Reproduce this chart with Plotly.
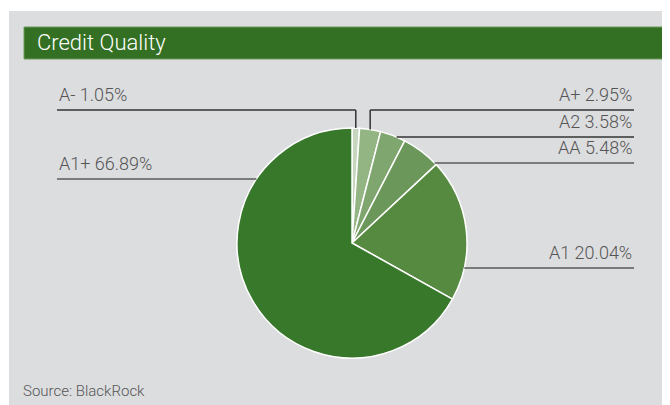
import math
import plotly.graph_objects as go

# ---- data ----
categories = ["A-", "A+", "A2", "AA", "A1", "A1+"]
values = [1.05, 2.95, 3.58, 5.48, 20.04, 66.89]
slice_colors = ["#c7d7bf", "#93b584", "#7fa66f", "#6b985a", "#578a41", "#38782b"]

title_text = "Credit Quality"
source_text = "Source: BlackRock"

# ---- layout constants (pixels, in the 670x405 window) ----
OFF = 8                      # default page body margin
W, H = 670 - OFF, 405 - OFF  # figure size
CX, CY, R = 352, 243, 115
FONT = "Roboto, 'Open Sans', sans-serif"


def px(x):
    return (x - OFF) / W


def py(y):
    return 1 - (y - OFF) / H


fig = go.Figure()
fig.add_trace(go.Pie(
    labels=categories,
    values=values,
    sort=False,
    direction="clockwise",
    rotation=0,
    textinfo="none",
    hoverinfo="label+percent",
    marker=dict(colors=slice_colors, line=dict(color="white", width=1.5)),
    domain=dict(x=[px(CX - R), px(CX + R)], y=[py(CY + R), py(CY - R)]),
    showlegend=False,
))

shapes = []
annotations = []

# background panel and title bar
shapes.append(dict(type="rect", xref="paper", yref="paper", layer="below",
                   x0=px(9), x1=px(671), y0=py(405), y1=py(11),
                   fillcolor="#dcdddf", line=dict(width=0)))
shapes.append(dict(type="rect", xref="paper", yref="paper", layer="below",
                   x0=px(24), x1=px(667), y0=py(59), y1=py(27),
                   fillcolor="#347023", line=dict(color="#6c9a5e", width=1)))
annotations.append(dict(text=title_text, xref="paper", yref="paper",
                        x=px(35), y=py(43), xanchor="left", yanchor="middle",
                        showarrow=False,
                        font=dict(family=FONT, size=22, color="white", weight=300)))
annotations.append(dict(text=source_text, xref="paper", yref="paper",
                        x=px(21), y=py(391), xanchor="left", yanchor="middle",
                        showarrow=False,
                        font=dict(family=FONT, size=15, color="#555555", weight=300)))

# label placement: (side, line y pixel, mode, line colour)
placement = {
    "A-": ("left", 110, "drop", "#333333"),
    "A+": ("right", 110, "drop", "#333333"),
    "A2": ("right", 137, "hit", "#333333"),
    "AA": ("right", 163, "hit", "#5a5a5a"),
    "A1": ("right", 268, "hit", "#5a5a5a"),
    "A1+": ("left", 179, "hit", "#5a5a5a"),
}
LEFT_X, RIGHT_X = 57, 634

total = sum(values)
cum = 0.0
for cat, v in zip(categories, values):
    mid = (cum + v / 2) / total * 2 * math.pi
    cum += v
    side, ly, mode, lc = placement[cat]
    outer = LEFT_X if side == "left" else RIGHT_X
    if mode == "drop":
        ex = CX + R * math.sin(mid)
        ey = CY - R * math.cos(mid)
        shapes.append(dict(type="line", xref="paper", yref="paper",
                           x0=px(outer), x1=px(ex), y0=py(ly), y1=py(ly),
                           line=dict(color=lc, width=1.5)))
        shapes.append(dict(type="line", xref="paper", yref="paper",
                           x0=px(ex), x1=px(ex), y0=py(ly), y1=py(ey),
                           line=dict(color=lc, width=1.5)))
    else:
        dy = ly - CY
        dx = math.sqrt(max(R * R - dy * dy, 0))
        ex = CX + dx if side == "right" else CX - dx
        shapes.append(dict(type="line", xref="paper", yref="paper",
                           x0=px(outer), x1=px(ex), y0=py(ly), y1=py(ly),
                           line=dict(color=lc, width=1.5)))
    label = f"{cat} {v:.2f}%"
    annotations.append(dict(text=label, xref="paper", yref="paper",
                            x=px(outer), y=py(ly - 3),
                            xanchor="left" if side == "left" else "right",
                            yanchor="bottom", showarrow=False,
                            font=dict(family=FONT, size=18, color="#555555", weight=300)))

fig.update_layout(
    width=W, height=H,
    margin=dict(l=0, r=0, t=0, b=0),
    paper_bgcolor="white",
    plot_bgcolor="white",
    shapes=shapes,
    annotations=annotations,
)

fig.write_html("out.html")
